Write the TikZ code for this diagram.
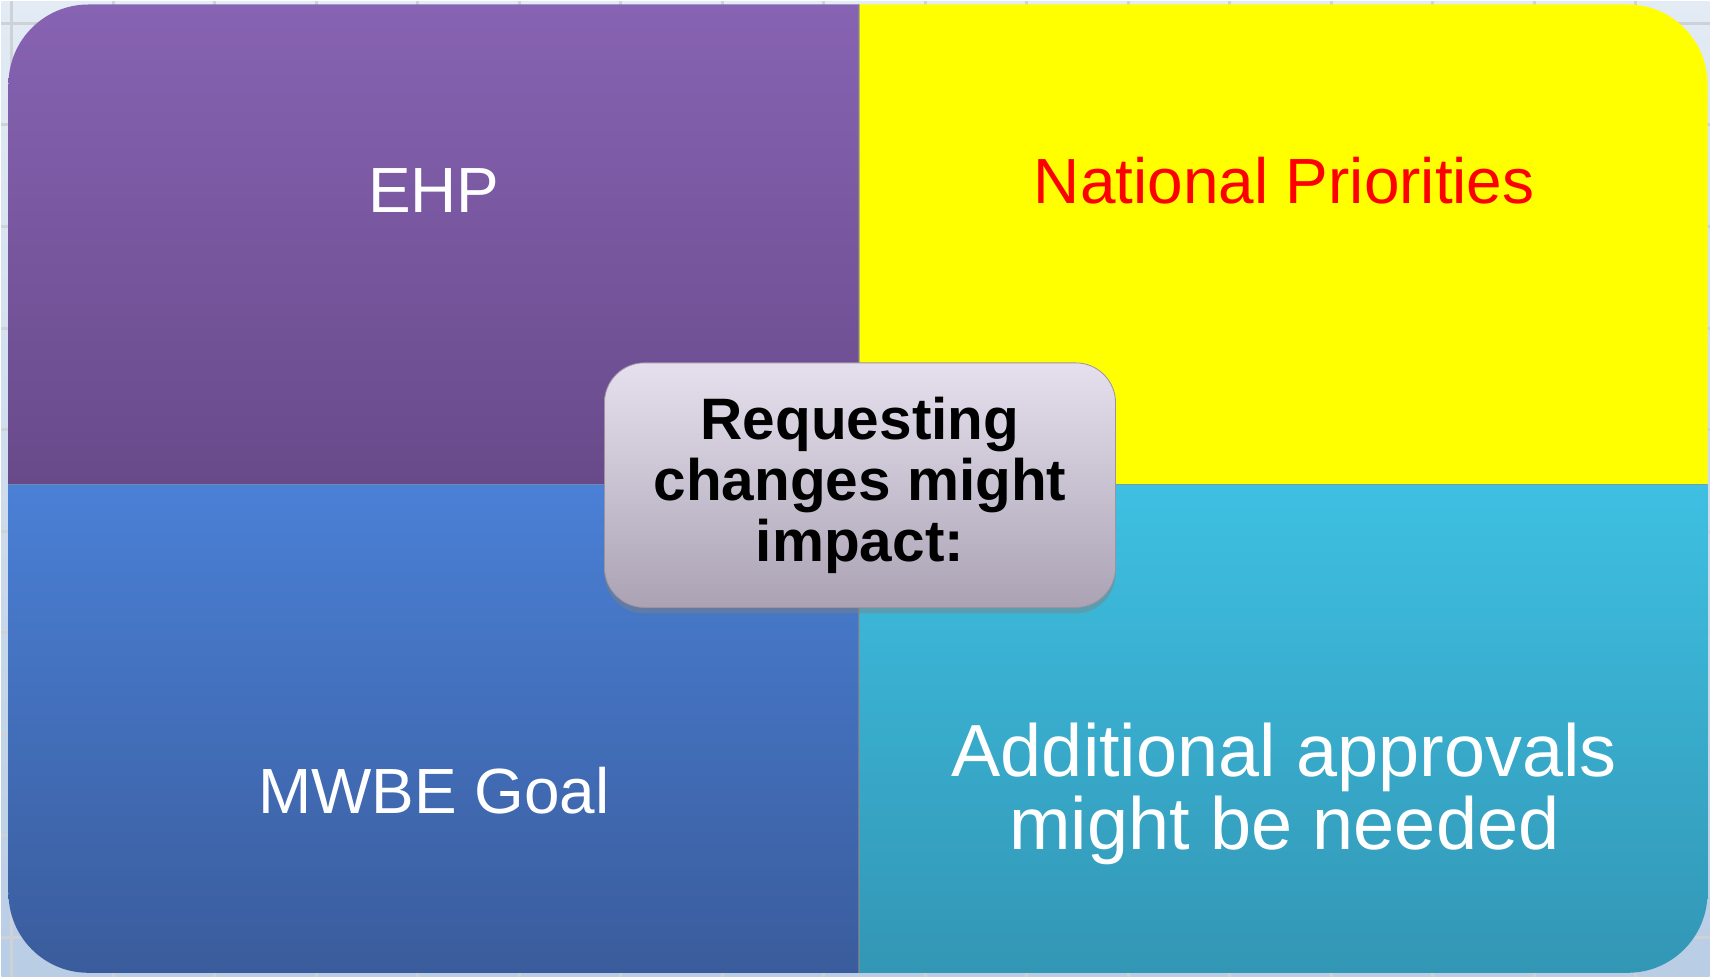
\documentclass[tikz,border=0pt]{standalone}
\usepackage{fontspec}
\setmainfont{Liberation Sans}
\usetikzlibrary{positioning,shadows}
\definecolor{bgtop}{HTML}{E3EBF4}
\definecolor{bgbottom}{HTML}{B9CDE5}
\definecolor{gridgray}{HTML}{CDD2D8}
\definecolor{ehptop}{HTML}{8763B3}
\definecolor{ehpbottom}{HTML}{684A8A}
\definecolor{prioyellow}{HTML}{FFFF00}
\definecolor{mwbetop}{HTML}{4A80D6}
\definecolor{mwbebottom}{HTML}{3A5C9C}
\definecolor{apprtop}{HTML}{3EC0E2}
\definecolor{apprbottom}{HTML}{3396B5}
\definecolor{hubtop}{HTML}{E6E0EE}
\definecolor{hubbottom}{HTML}{ABA3B4}
\definecolor{hubedge}{HTML}{9A94A0}
\tikzset{
  gridline/.style={draw=gridgray, line width=1.5pt},
  divider/.style={draw=black!45, line width=0.6pt, opacity=0.6},
  quadtext/.style={
    text=white,
    font=\fontsize{32}{36}\selectfont,
    inner sep=0pt,
    anchor=base},
  hub/.style={
    rectangle,
    rounded corners=20pt,
    top color=hubtop,
    bottom color=hubbottom,
    draw=hubedge, thin,
    minimum width=256pt,
    minimum height=122.5pt,
    align=center,
    font=\bfseries\fontsize{29.3}{30.5}\selectfont,
    drop shadow={opacity=0.45, shadow xshift=0pt, shadow yshift=-3pt}},
}

\begin{document}
\begin{tikzpicture}[x=0.5pt,y=-0.5pt]
  % slide background
  \shade[top color=bgtop, bottom color=bgbottom] (0,0) rectangle (1711,977);
  \foreach \k in {0,...,16}
    \draw[gridline] (10+\k*101.7,0) -- (10+\k*101.7,977);
  \foreach \k in {0,...,9}
    \draw[gridline] (0,22+\k*101.7) -- (1711,22+\k*101.7);

  % four quadrants
  \begin{scope}
    \clip[rounded corners=40pt] (7,3) rectangle (1709,973);
    \shade[top color=ehptop, bottom color=ehpbottom] (7,3) rectangle (859,484);
    \fill[prioyellow] (859,3) rectangle (1709,484);
    \shade[top color=mwbetop, bottom color=mwbebottom] (7,484) rectangle (859,973);
    \shade[top color=apprtop, bottom color=apprbottom] (859,484) rectangle (1709,973);
    \draw[divider] (859,3) -- (859,973);
    \draw[divider] (7,484) -- (1709,484);
  \end{scope}

  \node[quadtext] (ehp) at (433,211) {EHP};
  \node[quadtext, text=red] (natpri) at (1285,202) {National Priorities};
  \node[quadtext] (mwbe) at (433,813) {MWBE Goal};
  \node[quadtext, anchor=center, align=center,
        font=\fontsize{37}{36.5}\selectfont] (approvals) at (1285,794)
        {Additional approvals\\might be needed};

  % centre box
  \node[hub] (hub) at (860,484.5) {Requesting\\changes might\\impact:};
\end{tikzpicture}
\end{document}
